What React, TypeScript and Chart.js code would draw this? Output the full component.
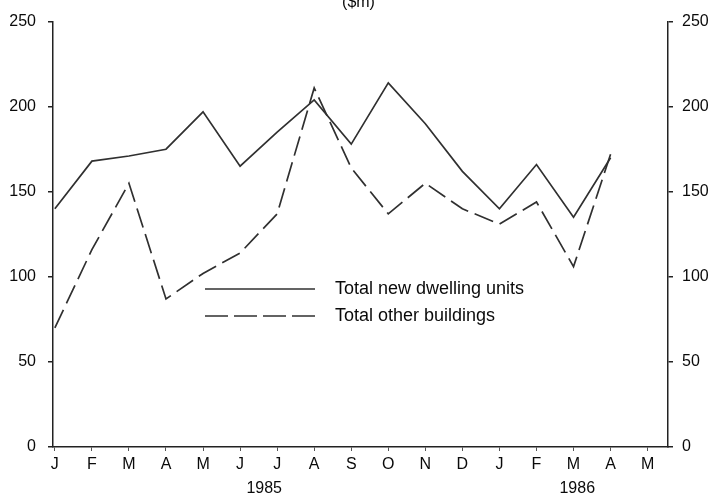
import { useEffect, useRef } from "react";
import { Chart, registerables } from "chart.js";

Chart.register(...registerables);

const FONT = "'Liberation Sans', Arial, Helvetica, sans-serif";

const title = "($m)";
const months = ["J", "F", "M", "A", "M", "J", "J", "A", "S", "O", "N", "D", "J", "F", "M", "A", "M"];
const yearLabels = ["1985", "1986"];
const yearAt = [5.65, 14.1];
const dwellingLabel = "Total new dwelling units";
const otherLabel = "Total other buildings";
const dwelling = [140, 168, 171, 175, 197, 165, 185, 204, 178, 214, 190, 162, 140, 166, 135, 170];
const other = [70, 116, 155, 87, 102, 114, 137, 211, 164, 137, 155, 140, 131, 144, 106, 172];
const yTicks = [0, 50, 100, 150, 200, 250];

const INK = "#0a0a0a";
const LINE = "#303030";

const overlay = {
  id: "overlay",
  beforeDraw(chart: any) {
    const ctx = chart.ctx;
    ctx.save();
    ctx.fillStyle = "#fff";
    ctx.fillRect(0, 0, chart.width, chart.height);
    ctx.restore();
  },
  afterDraw(chart: any) {
    const ctx = chart.ctx;
    const xs = chart.scales.x;
    const ca = chart.chartArea;
    ctx.save();
    ctx.fillStyle = INK;
    ctx.font = `16px ${FONT}`;
    ctx.textAlign = "center";
    ctx.textBaseline = "middle";
    ctx.fillText(title, (ca.left + ca.right) / 2 - 2, 3);
    yearLabels.forEach((t, i) => {
      ctx.fillText(t, xs.getPixelForValue(yearAt[i]), 489);
    });
    // legend
    ctx.font = `18px ${FONT}`;
    const rows = [289, 316];
    chart.data.datasets.forEach((ds: any, i: number) => {
      const y = rows[i];
      ctx.beginPath();
      ctx.strokeStyle = ds.borderColor;
      ctx.lineWidth = ds.borderWidth;
      ctx.setLineDash(ds.borderDash ? [23, 6] : []);
      ctx.moveTo(205, y);
      ctx.lineTo(315, y);
      ctx.stroke();
      ctx.setLineDash([]);
      ctx.textAlign = "left";
      ctx.fillText(ds.label, 335, y);
    });
    ctx.restore();
  },
};

export default function App() {
  const ref = useRef<HTMLCanvasElement>(null);
  useEffect(() => {
    if (!ref.current) return;
    const tickFont = { family: FONT, size: 16 };
    const yScale = (position: string, width: number) => ({
      type: "linear",
      position,
      min: 0,
      max: 250,
      afterBuildTicks: (s: any) => {
        s.ticks = yTicks.map((v) => ({ value: v }));
      },
      afterFit: (s: any) => {
        s.width = width;
      },
      ticks: { color: INK, font: tickFont, padding: position === "left" ? 12 : 9 },
      grid: { drawOnChartArea: false, drawTicks: true, tickLength: 5, color: "#222", lineWidth: 1.5 },
      border: { display: true, color: "#222", width: 1.5 },
    });
    const chart = new Chart(ref.current, {
      type: "line",
      data: {
        datasets: [
          {
            label: dwellingLabel,
            data: dwelling.map((v, i) => ({ x: i, y: v })),
            borderColor: LINE,
            borderWidth: 1.7,
            pointRadius: 0,
            tension: 0,
            fill: false,
          },
          {
            label: otherLabel,
            data: other.map((v, i) => ({ x: i, y: v })),
            borderColor: LINE,
            borderWidth: 1.7,
            borderDash: [20, 7],
            pointRadius: 0,
            tension: 0,
            fill: false,
          },
        ],
      },
      options: {
        responsive: false,
        animation: false,
        layout: { padding: { top: 19, left: 0, right: 0, bottom: 0 } },
        plugins: { legend: { display: false }, tooltip: { enabled: false }, title: { display: false } },
        scales: {
          x: {
            type: "linear",
            min: -0.05,
            max: 16.55,
            afterBuildTicks: (s: any) => {
              s.ticks = months.map((_, i) => ({ value: i }));
            },
            afterFit: (s: any) => {
              s.height = 53;
            },
            ticks: {
              color: INK,
              font: tickFont,
              autoSkip: false,
              maxRotation: 0,
              padding: 4,
              callback: (v: any) => months[v] ?? "",
            },
            grid: { drawOnChartArea: false, drawTicks: true, tickLength: 4, color: "#555", lineWidth: 1 },
            border: { display: true, color: "#222", width: 1.5 },
          },
          y: yScale("left", 53),
          y2: yScale("right", 51),
        } as any,
      },
      plugins: [overlay],
    } as any);
    return () => chart.destroy();
  }, []);
  return (
    <canvas
      ref={ref}
      width={719}
      height={500}
      style={{ position: "absolute", left: 0, top: 0, display: "block" }}
    />
  );
}
